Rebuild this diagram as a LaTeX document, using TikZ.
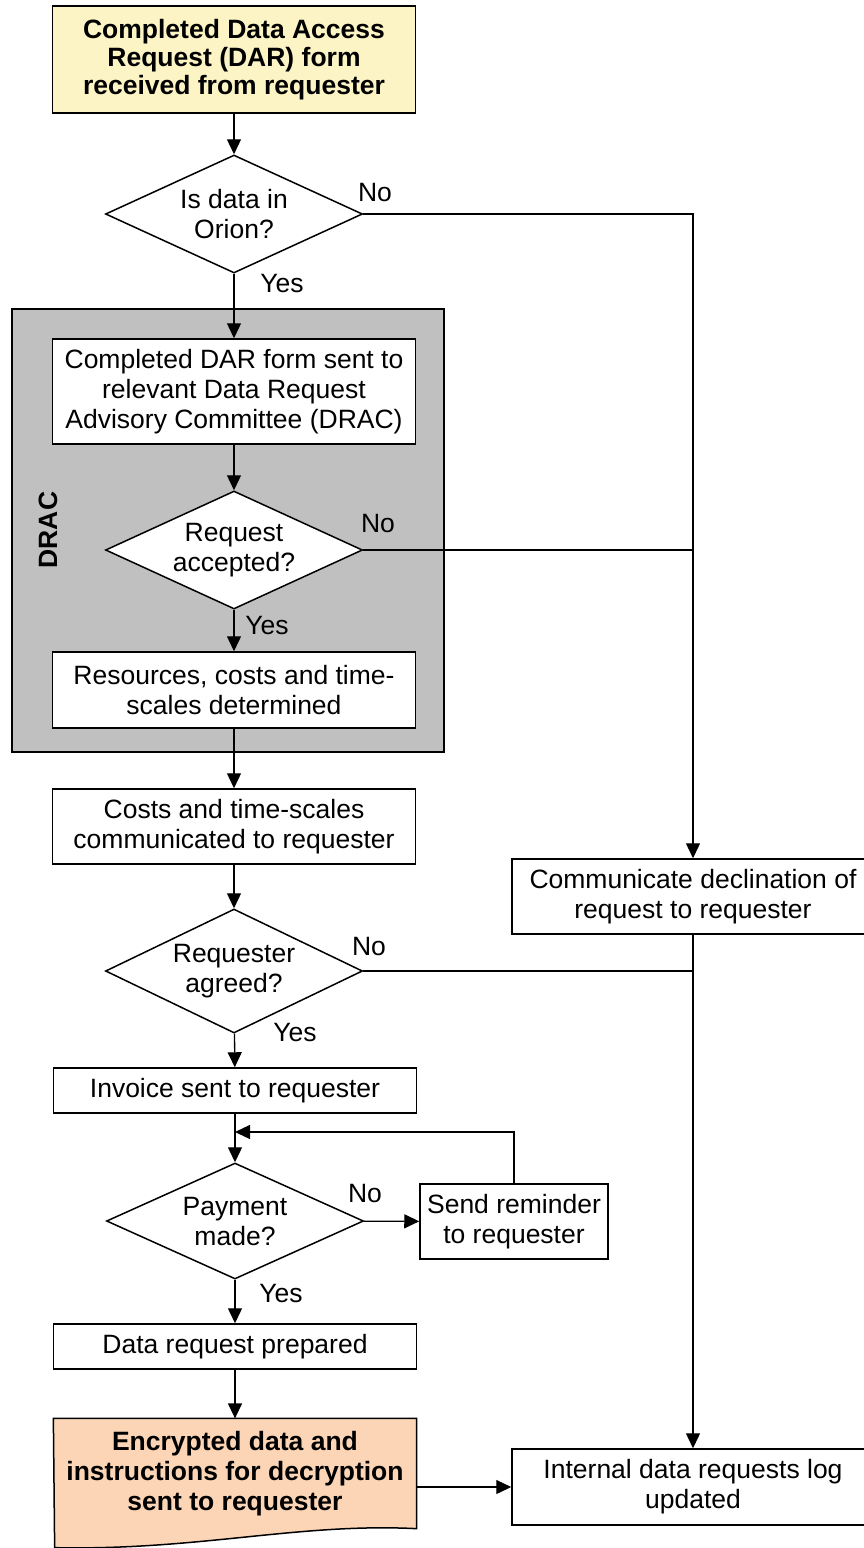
\documentclass[tikz,border=0pt]{standalone}
\usepackage{fontspec}
\setmainfont{Liberation Sans}
\usetikzlibrary{shapes.geometric, arrows.meta, backgrounds}
\definecolor{startyellow}{RGB}{252,244,196}
\definecolor{endpeach}{RGB}{251,213,181}
\definecolor{dracgray}{RGB}{192,192,192}

\begin{document}
\begin{tikzpicture}[x=1pt,y=-1pt,
  every node/.style={font=\fontsize{26.5}{30}\selectfont},
  >={Triangle[length=15pt,width=14pt]},
  line width=1.3pt,
  box/.style={draw, rectangle, fill=white, align=center, inner sep=0pt, minimum width=363, line width=1.5pt},
  decision/.style={draw, diamond, fill=white, align=center, inner sep=0pt, aspect=2.2, minimum width=257, minimum height=118, line width=1.5pt},
  lbl/.style={inner sep=0pt}]
 \useasboundingbox (0,0) rectangle (864,1548);
 \draw[fill=dracgray, line width=1.5pt] (12,309) rectangle (444,752);
 \node[rotate=90, font=\fontsize{26.5}{30}\selectfont\bfseries] (dracname) at (48,530) {DRAC};
 \node[box, fill=startyellow, minimum height=107, font=\fontsize{26.5}{28}\selectfont\bfseries] (start) at (234,59.5) {Completed Data Access\\Request (DAR) form\\received from requester};
 \node[decision] (orion) at (234,214) {Is data in\\Orion?};
 \node[box, minimum height=105] (form) at (234,391.5) {Completed DAR form sent to\\relevant Data Request\\Advisory Committee (DRAC)};
 \node[decision] (accept) at (234,550) {Request\\accepted?};
 \node[box, minimum height=76] (resources) at (234,690) {Resources, costs and time-\\scales determined};
 \node[box, minimum height=75] (costs) at (234,826.5) {Costs and time-scales\\communicated to requester};
 \node[decision, minimum height=124] (agreed) at (234,971) {Requester\\agreed?};
 \node[box, minimum height=45] (invoice) at (235,1090.5) {Invoice sent to requester};
 \node[decision, minimum height=116] (payment) at (235,1221) {Payment\\made?};
 \node[box, minimum width=188, minimum height=75] (reminder) at (514,1221.5) {Send reminder\\to requester};
 \node[box, minimum height=45] (prepared) at (235,1346.5) {Data request prepared};
 \node[minimum width=362, minimum height=109, align=center, inner sep=0pt, font=\fontsize{26.5}{30}\selectfont\bfseries] (encrypted) at (235,1473.5) {Encrypted data and\\instructions for decryption\\sent to requester};
 \begin{scope}[on background layer]
  \draw[fill=endpeach, line width=1.5pt] (encrypted.north west) -- (encrypted.north east) -- (encrypted.south east)
    .. controls +(-118,-6) and +(144,3) .. ++(-362,19) -- cycle;
 \end{scope}
 \node[box, minimum width=362, minimum height=75] (decline) at (693,896.5) {Communicate declination of\\request to requester};
 \node[box, minimum width=362, minimum height=76] (logged) at (693,1487) {Internal data requests log\\updated};
 \node[lbl] (no1) at (375,193) {No};
 \node[lbl] (yes1) at (282,284) {Yes};
 \node[lbl] (no2) at (378,524) {No};
 \node[lbl] (yes2) at (267,626) {Yes};
 \node[lbl] (no3) at (369,947) {No};
 \node[lbl] (yes3) at (295,1032) {Yes};
 \node[lbl] (no4) at (365,1193) {No};
 \node[lbl] (yes4) at (281,1293) {Yes};
 \coordinate (nojoin) at (693,214);
 \coordinate (loopback) at (235,1132);
 \draw[->] (start) -- (orion);
 \draw[->] (orion.east) -- (nojoin) -- (decline.north);
 \draw[->] (orion) -- (form);
 \draw[->] (form) -- (accept);
 \draw (accept.east) -- (accept.east -| decline.north);
 \draw[->] (accept) -- (resources);
 \draw[->] (resources) -- (costs);
 \draw[->] (costs) -- (agreed);
 \draw (agreed.east) -- (agreed.east -| decline.south);
 \draw[->] (decline) -- (logged);
 \draw[->] (agreed) -- (invoice);
 \draw[->] (invoice) -- (payment);
 \draw[->] (payment) -- (reminder);
 \draw[->] (reminder.north) |- (loopback);
 \draw[->] (payment) -- (prepared);
 \draw[->] (prepared) -- (encrypted);
 \draw[->] (encrypted.east |- logged.west) -- (logged.west);
\end{tikzpicture}
\end{document}
